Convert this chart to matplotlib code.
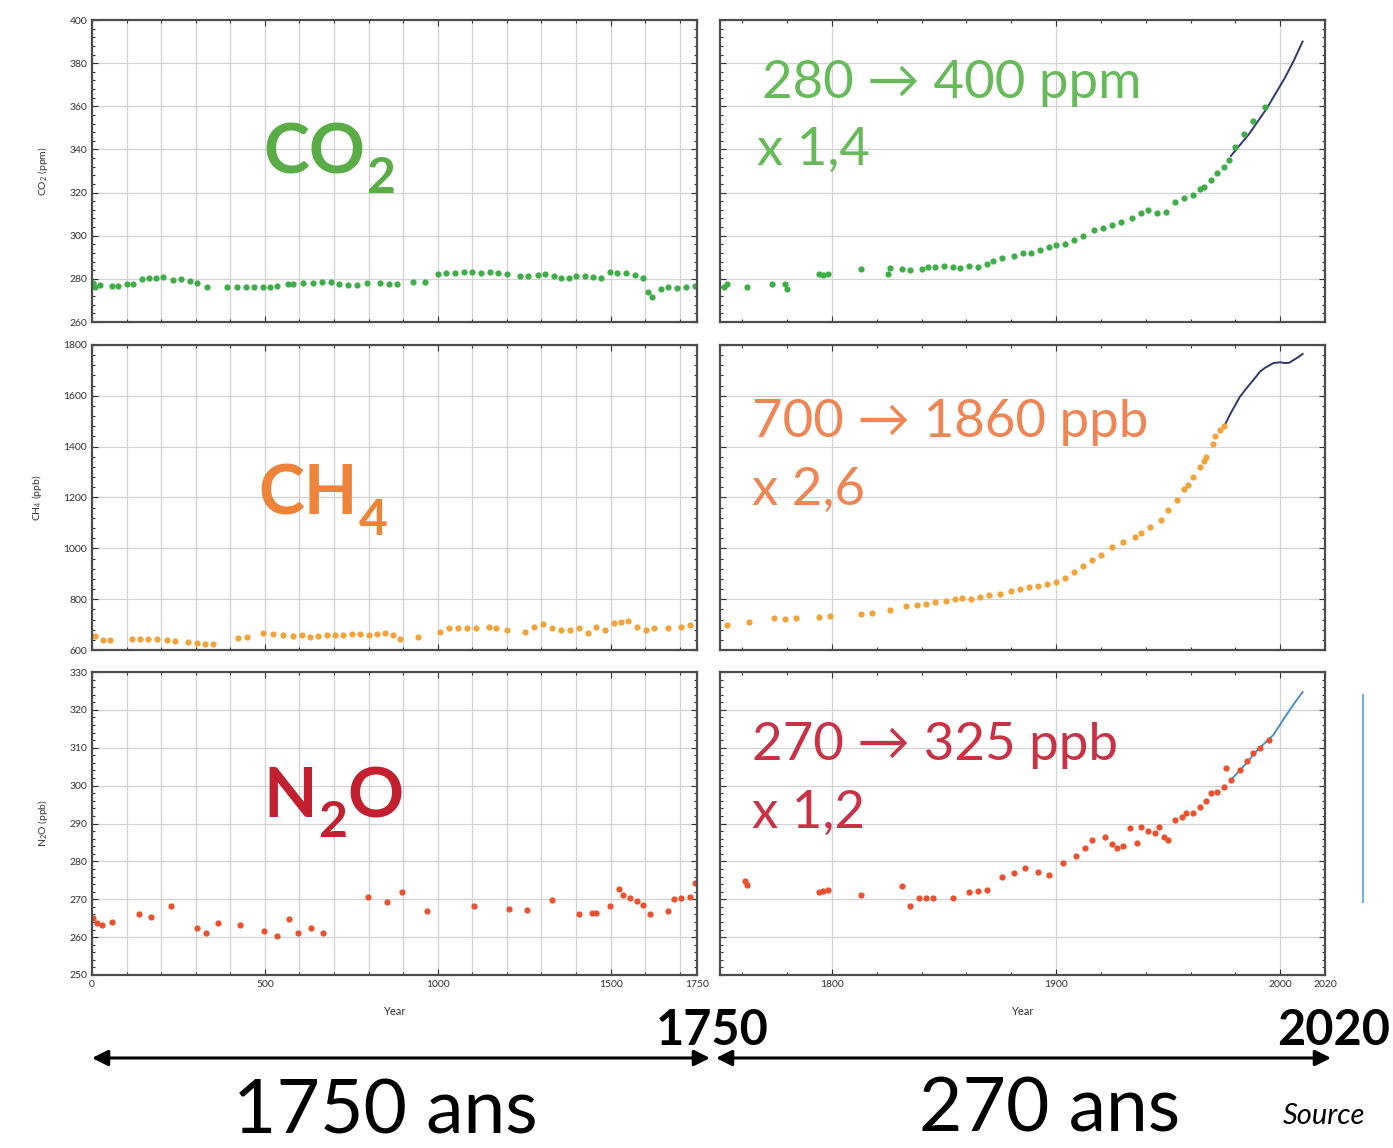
# Greenhouse gas concentrations over the last 2000 years (ice cores + instruments)
# left panels: year 0 -> 1750, right panels: 1750 -> 2020

import numpy as np
import matplotlib.pyplot as plt
from matplotlib.ticker import MultipleLocator, AutoMinorLocator
from matplotlib.lines import Line2D

plt.rcParams['font.family'] = ['Lato', 'DejaVu Sans']
plt.rcParams['mathtext.fontset'] = 'custom'
plt.rcParams['mathtext.rm'] = 'Lato'
plt.rcParams['mathtext.it'] = 'Lato:italic'

# ============================================================================
# data
# ============================================================================

# CO2 (ppm), year 0 - 1750
co2_old_years = [2, 9, 23, 57, 75, 100, 119, 144, 165, 185, 206, 235, 258, 283, 303, 332,
                 390, 418, 445, 470, 495, 515, 535, 567, 582, 611, 640, 665, 690, 715, 740,
                 767, 795, 833, 858, 882, 929, 963, 1001, 1025, 1050, 1075, 1100, 1125,
                 1150, 1175, 1200, 1239, 1262, 1290, 1310, 1337, 1357, 1380, 1400, 1425,
                 1450, 1473, 1499, 1520, 1545, 1570, 1594, 1609, 1621, 1646, 1666, 1692,
                 1718, 1744]
co2_old_vals = [278, 276.4, 277.1, 276.9, 276.9, 277.6, 277.6, 279.9, 280.3, 280.6, 280.8,
                279.7, 279.8, 279.2, 278.2, 276.4, 276.4, 276.3, 276.2, 276.1, 276.1, 276.4,
                276.7, 277.6, 277.6, 278.0, 278.3, 278.6, 278.6, 277.8, 277.2, 277.1, 278.2,
                278.0, 277.6, 277.6, 278.7, 278.7, 282.2, 282.5, 282.8, 283.0, 283.1, 282.8,
                283.0, 282.6, 282.2, 281.3, 281.5, 281.8, 282.2, 281.3, 280.4, 280.6, 281.2,
                281.5, 280.8, 280.4, 283.2, 282.8, 282.6, 281.8, 280.4, 273.9, 271.6, 275.3,
                276.2, 275.8, 276.3, 276.9]

# CO2 (ppm), 1750 - 2020, ice core points
co2_new_years = [1752, 1753, 1762, 1773, 1779, 1780, 1794, 1796, 1798, 1813, 1825, 1826,
                 1831, 1835, 1840, 1843, 1846, 1850, 1854, 1857, 1861, 1865, 1869, 1872,
                 1876, 1881, 1885, 1889, 1893, 1897, 1900, 1904, 1908, 1912, 1917, 1921,
                 1925, 1929, 1934, 1938, 1941, 1945, 1949, 1953, 1957, 1961, 1964, 1966,
                 1969, 1972, 1975, 1977, 1980, 1984, 1988, 1993]
co2_new_vals = [276.2, 277.5, 276.2, 277.6, 277.6, 275.3, 282.2, 281.8, 282.2, 284.4, 282.2,
                285.0, 284.4, 284.0, 284.8, 285.6, 285.3, 286.0, 285.6, 285.2, 285.8, 285.4,
                287.0, 288.2, 289.5, 290.5, 291.8, 292.0, 293.5, 294.8, 295.5, 296.2, 298.0,
                300.0, 302.6, 303.8, 305.0, 306.5, 308.1, 310.4, 311.9, 310.4, 311.1, 315.8,
                317.3, 318.9, 321.5, 322.6, 326.0, 329.0, 332.0, 335.1, 341.0, 347.0, 353.0,
                359.7]
# CO2 instrumental record
co2_inst_years = [1978, 1982, 1986, 1990, 1994, 1998, 2002, 2006, 2010]
co2_inst_vals = [337, 342, 347, 353, 359, 366, 373, 381, 390]

# CH4 (ppb), year 0 - 1750
ch4_old_years = [9, 32, 52, 115, 139, 162, 187, 216, 240, 279, 303, 327, 351, 423, 448, 495,
                 524, 553, 582, 607, 631, 655, 679, 703, 726, 752, 775, 800, 824, 848, 872,
                 891, 943, 1007, 1033, 1059, 1085, 1111, 1149, 1169, 1201, 1253, 1279, 1305,
                 1331, 1357, 1383, 1409, 1435, 1458, 1484, 1510, 1531, 1551, 1577, 1603,
                 1626, 1666, 1704, 1730]
ch4_old_vals = [655, 640, 638, 642, 645, 645, 643, 640, 635, 632, 628, 625, 622, 648, 650,
                668, 662, 660, 656, 660, 652, 656, 660, 660, 660, 662, 662, 660, 663, 665,
                660, 644, 650, 671, 685, 685, 685, 685, 692, 688, 678, 671, 692, 701, 685,
                678, 678, 685, 668, 692, 678, 705, 712, 715, 692, 678, 685, 688, 692, 698]

# CH4 (ppb), 1750 - 2020, ice core points
ch4_new_years = [1753, 1763, 1774, 1779, 1784, 1794, 1799, 1813, 1818, 1826, 1833, 1838,
                 1842, 1846, 1851, 1855, 1858, 1862, 1866, 1870, 1875, 1880, 1884, 1888,
                 1892, 1896, 1900, 1904, 1908, 1912, 1916, 1920, 1925, 1930, 1935, 1938,
                 1942, 1947, 1950, 1954, 1957, 1959, 1961, 1964, 1966, 1967, 1970, 1971,
                 1973, 1975]
ch4_new_vals = [700, 711, 727, 722, 727, 730, 735, 743, 745, 758, 774, 778, 782, 790, 794,
                802, 806, 800, 810, 815, 821, 833, 840, 848, 852, 860, 866, 885, 905, 930,
                955, 975, 1006, 1025, 1045, 1061, 1085, 1112, 1150, 1190, 1235, 1250, 1281,
                1320, 1345, 1360, 1410, 1440, 1466, 1480]
# CH4 instrumental record
ch4_inst_years = [1975, 1978, 1982, 1985, 1988, 1991, 1993, 1997, 2000, 2002, 2004, 2006,
                  2008, 2010]
ch4_inst_vals = [1480, 1533, 1596, 1630, 1662, 1695, 1709, 1729, 1732, 1729, 1730, 1741,
                 1752, 1765]

# N2O (ppb), year 0 - 1750
n2o_old_years = [2, 14, 28, 57, 137, 170, 228, 303, 329, 365, 428, 498, 534, 571, 597, 633,
                 667, 799, 854, 898, 969, 1105, 1207, 1259, 1330, 1408, 1447, 1459, 1499,
                 1525, 1537, 1555, 1575, 1594, 1614, 1666, 1684, 1705, 1730, 1743]
n2o_old_vals = [265.1, 263.8, 263.2, 264.1, 266.1, 265.3, 268.3, 262.5, 261.2, 263.8, 263.2,
                261.7, 260.2, 264.7, 261.0, 262.4, 261.2, 270.7, 269.4, 272.0, 266.8, 268.1,
                267.4, 267.2, 269.7, 266.2, 266.5, 266.5, 268.3, 272.7, 271.0, 270.3, 269.5,
                268.5, 266.2, 266.8, 270.0, 270.2, 270.6, 274.3]

# N2O (ppb), 1750 - 2020, ice core points
n2o_new_years = [1761, 1762, 1794, 1796, 1798, 1813, 1831, 1835, 1839, 1842, 1845, 1854,
                 1861, 1865, 1869, 1876, 1881, 1886, 1892, 1897, 1903, 1909, 1913, 1916,
                 1922, 1925, 1927, 1930, 1933, 1936, 1938, 1941, 1944, 1946, 1948, 1950,
                 1953, 1956, 1958, 1961, 1964, 1967, 1969, 1972, 1975, 1976, 1978, 1982,
                 1985, 1988, 1991, 1995]
n2o_new_vals = [274.8, 273.8, 272.0, 272.3, 272.5, 271.2, 273.4, 268.1, 270.4, 270.4, 270.4,
                270.4, 272.0, 272.3, 272.5, 276.0, 277.0, 278.3, 277.3, 276.5, 279.7, 281.3,
                283.5, 285.7, 286.5, 284.5, 283.6, 284.0, 288.8, 284.9, 289.0, 288.0, 287.5,
                289.0, 286.5, 285.7, 291.0, 291.8, 292.8, 292.8, 294.4, 296.0, 298.0, 298.3,
                299.6, 304.7, 301.5, 304.0, 306.5, 308.5, 310.0, 312.0]
# N2O instrumental record
n2o_inst_years = [1978, 1985, 1990, 1997, 2002, 2006, 2010]
n2o_inst_vals = [301.5, 306.0, 309.5, 313.4, 318.0, 321.5, 324.7]

gases = ['CO2', 'CH4', 'N2O']
ylabels = {'CO2': r'CO$_2$ (ppm)', 'CH4': r'CH$_4$ (ppb)', 'N2O': r'N$_2$O (ppb)'}
# big formula, split in (text, is_subscript) pieces
big_names = {'CO2': [('CO', False), ('2', True)],
             'CH4': [('CH', False), ('4', True)],
             'N2O': [('N', False), ('2', True), ('O', False)]}
change_txt = {'CO2': ('280 → 400 ppm', 'x 1,4'),
              'CH4': ('700 → 1860 ppb', 'x 2,6'),
              'N2O': ('270 → 325 ppb', 'x 1,2')}

# ============================================================================
# styling
# ============================================================================

dot_colors = {'CO2': '#3fae49', 'CH4': '#f2a43a', 'N2O': '#e9512f'}
name_colors = {'CO2': '#5aac47', 'CH4': '#ee8439', 'N2O': '#c21f30'}
change_colors = {'CO2': '#66bb58', 'CH4': '#f08452', 'N2O': '#cb3144'}
line_colors = {'CO2': '#2c3872', 'CH4': '#2c3872', 'N2O': '#4b8ec4'}
ylims = {'CO2': (260, 400, 20), 'CH4': (600, 1800, 200), 'N2O': (250, 330, 10)}

data = {
    'CO2': (co2_old_years, co2_old_vals, co2_new_years, co2_new_vals, co2_inst_years, co2_inst_vals),
    'CH4': (ch4_old_years, ch4_old_vals, ch4_new_years, ch4_new_vals, ch4_inst_years, ch4_inst_vals),
    'N2O': (n2o_old_years, n2o_old_vals, n2o_new_years, n2o_new_vals, n2o_inst_years, n2o_inst_vals),
}

W, H = 1393, 1148
fig = plt.figure(figsize=(W / 100, H / 100), dpi=100)
renderer = fig.canvas.get_renderer()

# pixel boxes of each row (top, bottom)
rows = {'CO2': (20, 322), 'CH4': (345, 650), 'N2O': (672, 975)}
left_x = (92, 697)
right_x = (720, 1325)

# big name position (x px, baseline px) and change text positions
name_pos = {'CO2': (263, 173), 'CH4': (258, 515), 'N2O': (263, 817)}
change_pos = {'CO2': ((762, 98), (757, 165)),
              'CH4': ((752, 437), (752, 505)),
              'N2O': ((752, 760), (752, 828))}


def px_axes(x0, x1, top, bottom):
    return fig.add_axes([x0 / W, 1 - bottom / H, (x1 - x0) / W, (bottom - top) / H])


def style_axis(ax, gas):
    lo, hi, step = ylims[gas]
    ax.set_ylim(lo, hi)
    ax.yaxis.set_major_locator(MultipleLocator(step))
    ax.yaxis.set_minor_locator(AutoMinorLocator(5))
    ax.tick_params(which='both', direction='in', top=True, right=True,
                   labelsize=7.5, colors='#333333', width=0.8)
    ax.tick_params(which='major', length=4)
    ax.tick_params(which='minor', length=2)
    ax.grid(True, axis='y', which='major', color='#d3d3d3', linewidth=0.9)
    for s in ax.spines.values():
        s.set_color('#4d4d4d')
        s.set_linewidth(1.6)


def formula(x_px, base_px, pieces, color, size=50):
    # write a chemical formula piece by piece, subscripts smaller and lowered
    x = x_px
    for txt, sub in pieces:
        fs = size * 0.72 if sub else size
        drop = 20 if sub else 0
        t = fig.text(x / W, 1 - (base_px + drop) / H, txt, fontsize=fs,
                     fontweight='bold', color=color, ha='left', va='baseline')
        bb = t.get_window_extent(renderer)
        x = bb.x1 + 1


for gas in gases:
    top, bottom = rows[gas]
    oy, ov, ny, nv, iy, iv = data[gas]

    # ---- left panel, year 0 - 1750
    axl = px_axes(left_x[0], left_x[1], top, bottom)
    axl.plot(oy, ov, 'o', color=dot_colors[gas], ms=4.5, mec='none')
    axl.set_xlim(0, 1750)
    axl.set_xticks([0, 500, 1000, 1500, 1750])
    axl.xaxis.set_minor_locator(MultipleLocator(100))
    style_axis(axl, gas)
    axl.grid(True, axis='x', which='both', color='#d3d3d3', linewidth=0.9)
    axl.set_ylabel(ylabels[gas], fontsize=7.5, color='#333333', labelpad=14)
    formula(name_pos[gas][0], name_pos[gas][1], big_names[gas], name_colors[gas])

    # ---- right panel, 1750 - 2020
    axr = px_axes(right_x[0], right_x[1], top, bottom)
    axr.plot(iy, iv, '-', color=line_colors[gas], lw=1.4, zorder=2)
    axr.plot(ny, nv, 'o', color=dot_colors[gas], ms=4.5, mec='none', zorder=3)
    axr.set_xlim(1750, 2020)
    axr.set_xticks([1800, 1900, 2000, 2020])
    axr.xaxis.set_minor_locator(MultipleLocator(20))
    style_axis(axr, gas)
    axr.grid(True, axis='x', which='major', color='#d3d3d3', linewidth=0.9)
    axr.tick_params(axis='y', labelleft=False)
    for (px, py), txt in zip(change_pos[gas], change_txt[gas]):
        axr.text((px - right_x[0]) / (right_x[1] - right_x[0]), (bottom - py) / (bottom - top),
                 txt, transform=axr.transAxes, fontsize=38, color=change_colors[gas],
                 va='baseline', ha='left')

    if gas == 'N2O':
        axl.set_xlabel('Year', fontsize=8, color='#333333', labelpad=12)
        axr.set_xlabel('Year', fontsize=8, color='#333333', labelpad=12)
    else:
        axl.tick_params(axis='x', labelbottom=False)
        axr.tick_params(axis='x', labelbottom=False)

# ============================================================================
# time span annotations under the panels
# ============================================================================

arrow_y = 1 - 1058 / H
fig.add_artist(plt.Annotation('', xy=(92 / W, arrow_y), xytext=(710 / W, arrow_y),
                              xycoords='figure fraction',
                              arrowprops=dict(arrowstyle='<|-|>', color='black', lw=2.2,
                                              mutation_scale=24, shrinkA=0, shrinkB=0)))
fig.add_artist(plt.Annotation('', xy=(716 / W, arrow_y), xytext=(1331 / W, arrow_y),
                              xycoords='figure fraction',
                              arrowprops=dict(arrowstyle='<|-|>', color='black', lw=2.2,
                                              mutation_scale=24, shrinkA=0, shrinkB=0)))

fig.text(712 / W, 1 - 1045 / H, '1750', fontsize=35, fontweight='bold', ha='center', va='baseline')
fig.text(1390 / W, 1 - 1045 / H, '2020', fontsize=35, fontweight='bold', ha='right', va='baseline')
fig.text(385 / W, 1 - 1134 / H, '1750 ans', fontsize=54, ha='center', va='baseline')
fig.text(1050 / W, 1 - 1131 / H, '270 ans', fontsize=54, ha='center', va='baseline')
fig.text(1283 / W, 1 - 1124 / H, 'Source', fontsize=21, style='italic', ha='left', va='baseline')

# thin blue bar at the right of the N2O row
fig.add_artist(Line2D([1363 / W, 1363 / W], [1 - 695 / H, 1 - 902 / H],
                      color='#7fb2d3', lw=1.6, transform=fig.transFigure))

plt.savefig('out.png', dpi=100)
